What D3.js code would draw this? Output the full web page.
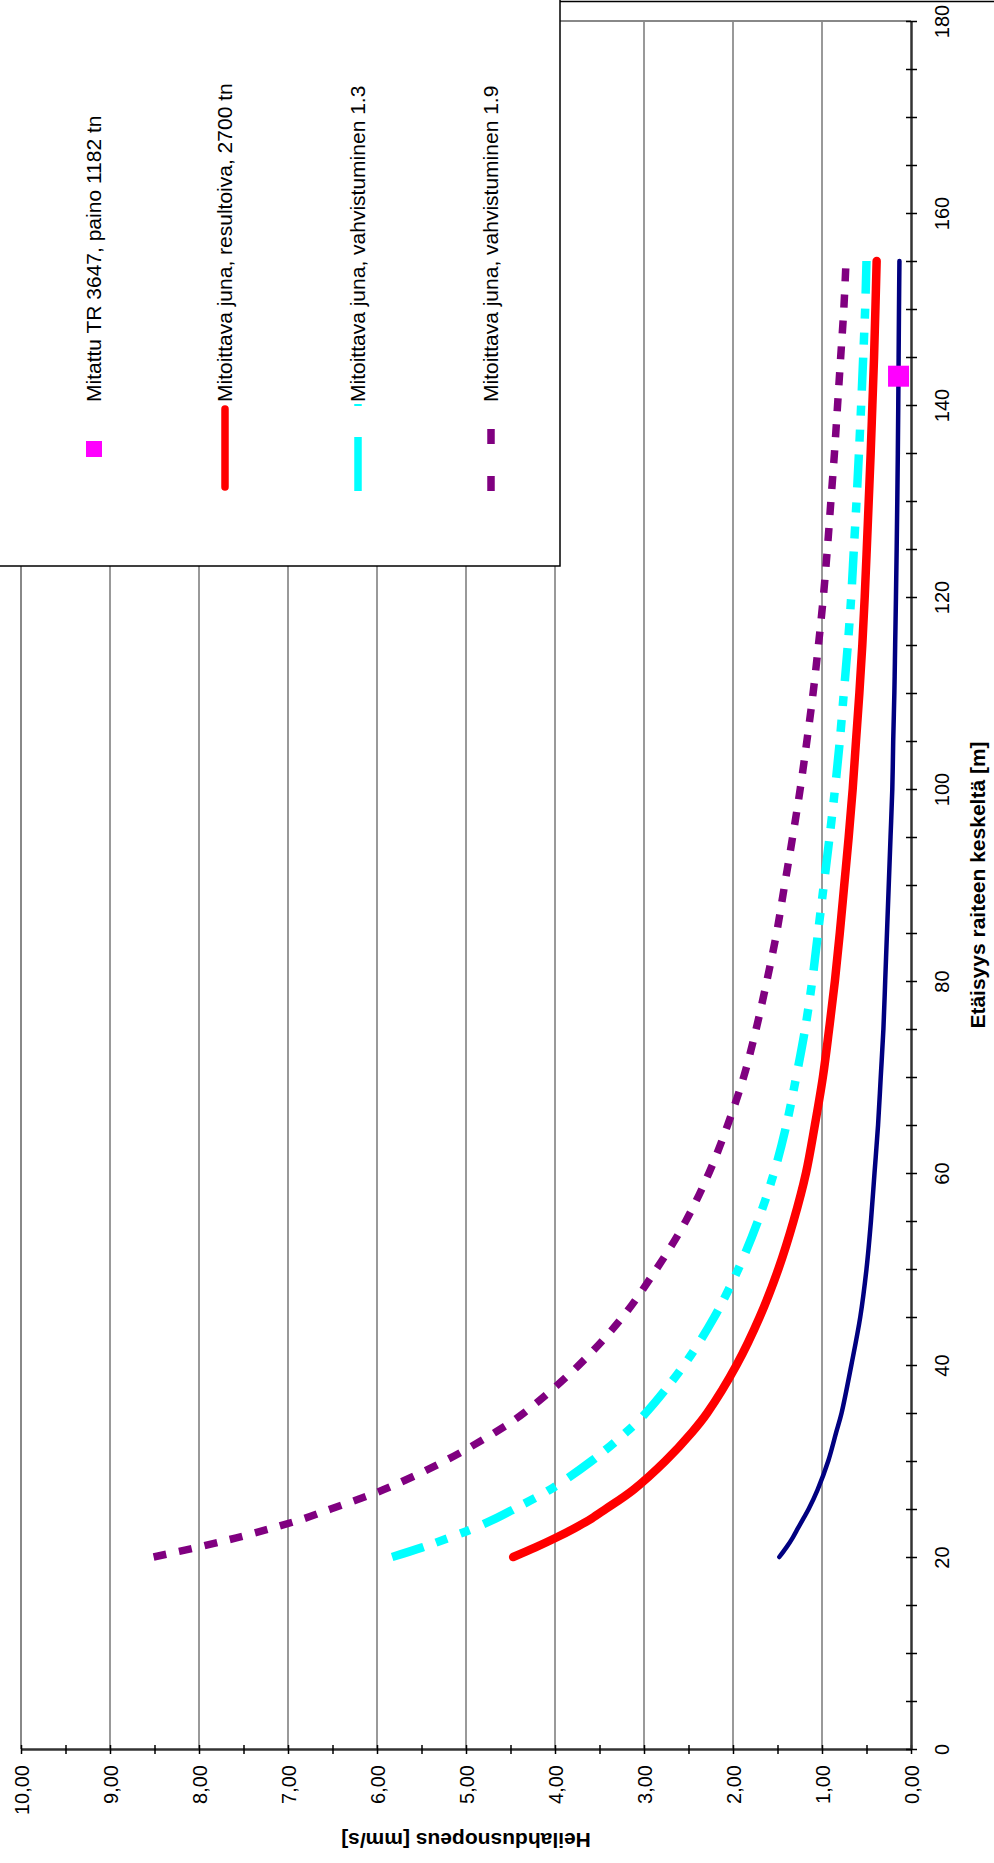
<!DOCTYPE html>
<html>
<head>
<meta charset="utf-8">
<script src="https://cdnjs.cloudflare.com/ajax/libs/d3/7.8.5/d3.min.js"></script>
<style>
  body { margin: 0; background: #fff; }
  svg text { font-family: "Liberation Sans", Arial, sans-serif; fill: #000; }
</style>
</head>
<body>
<script>
// Distance from track centre [m] -- shared by the four calculated series
const distances = [20, 21, 22, 23, 24, 25, 27, 30, 33, 35,
                   40, 45, 50, 55, 60, 65, 70, 75, 80, 85,
                   90, 95, 100, 105, 110, 115, 120, 125, 130, 135,
                   140, 145, 150, 155];

// Velocity [mm/s]
const navyVals   = [1.48, 1.40, 1.33, 1.27, 1.21, 1.15, 1.05, 0.93, 0.84, 0.78,
                    0.67, 0.57, 0.50, 0.45, 0.41, 0.37, 0.34, 0.31, 0.29, 0.27,
                    0.25, 0.23, 0.21, 0.20, 0.187, 0.178, 0.169, 0.161, 0.154, 0.148,
                    0.143, 0.139, 0.135, 0.13];
const redVals    = [4.47, 4.22, 3.99, 3.78, 3.59, 3.43, 3.12, 2.76, 2.46, 2.29,
                    1.96, 1.70, 1.49, 1.32, 1.18, 1.08, 0.99, 0.92, 0.855, 0.80,
                    0.75, 0.70, 0.655, 0.618, 0.58, 0.547, 0.52, 0.497, 0.475, 0.453,
                    0.434, 0.415, 0.40, 0.386];
const cyanVals   = [5.83, 5.49, 5.19, 4.91, 4.67, 4.46, 4.06, 3.59, 3.20, 2.98,
                    2.55, 2.21, 1.94, 1.72, 1.54, 1.40, 1.29, 1.19, 1.11, 1.045,
                    0.98, 0.915, 0.854, 0.80, 0.755, 0.71, 0.672, 0.642, 0.612, 0.585,
                    0.56, 0.537, 0.515, 0.50];
const purpleVals = [8.51, 8.02, 7.58, 7.18, 6.82, 6.52, 5.93, 5.24, 4.67, 4.35,
                    3.73, 3.24, 2.86, 2.53, 2.27, 2.06, 1.88, 1.74, 1.62, 1.51,
                    1.42, 1.33, 1.245, 1.17, 1.10, 1.04, 0.985, 0.94, 0.90, 0.86,
                    0.825, 0.79, 0.755, 0.73];

// Measured point (TR 3647)
const measuredDist = [143];
const measuredVals = [0.14];

const legendLabels = ["Mitattu TR 3647, paino 1182 tn",
                      "Mitoittava juna, resultoiva, 2700 tn",
                      "Mitoittava juna, vahvistuminen 1.3",
                      "Mitoittava juna, vahvistuminen 1.9"];

const xTitle = "Etäisyys raiteen keskeltä [m]";
const yTitle = "Heilahdusnopeus [mm/s]";

const distTicks  = d3.range(0, 181, 5);      // every 5 m, label every 20
const veloTicks  = d3.range(0, 10.01, 0.5);  // every 0.5, label every 1

// The whole chart is turned a quarter turn: distance runs up the page,
// velocity runs right-to-left.
const W = 994, H = 1863;
const svg = d3.select("body").append("svg")
    .attr("width", W)
    .attr("height", H);

const yD = d3.scaleLinear().domain([0, 180]).range([1749, 21]);
const xV = d3.scaleLinear().domain([0, 10]).range([911, 21]);

// outer frame edge at top
svg.append("line")
    .attr("x1", 0).attr("x2", W)
    .attr("y1", 1.5).attr("y2", 1.5)
    .attr("stroke", "#000").attr("stroke-width", 1.5);

// gridlines
svg.append("g").selectAll("line")
    .data(d3.range(1, 11))
    .join("line")
    .attr("x1", d => xV(d)).attr("x2", d => xV(d))
    .attr("y1", yD(180)).attr("y2", yD(0))
    .attr("stroke", d => d === 10 ? "#888" : "#555")
    .attr("stroke-width", d => d === 10 ? 2 : 1.2);

// plot area top edge
svg.append("line")
    .attr("x1", xV(10)).attr("x2", xV(0))
    .attr("y1", yD(180)).attr("y2", yD(180))
    .attr("stroke", "#888").attr("stroke-width", 2);

const line = d3.line()
    .x(d => xV(d.v))
    .y(d => yD(d.d))
    .curve(d3.curveCatmullRom.alpha(0.5));

const series = [
  {vals: navyVals,   color: "#000080", width: 4.5, dash: null,                  cap: "round"},
  {vals: redVals,    color: "#FF0000", width: 8.5, dash: null,                  cap: "round"},
  {vals: cyanVals,   color: "#00FFFF", width: 8.5, dash: "33,13,12,14,10,15",   cap: "butt"},
  {vals: purpleVals, color: "#800080", width: 7.5, dash: "13,13",               cap: "butt"}
];

svg.append("g").selectAll("path")
    .data(series)
    .join("path")
    .attr("d", s => line(distances.map((d, i) => ({d: d, v: s.vals[i]}))))
    .attr("fill", "none")
    .attr("stroke", s => s.color)
    .attr("stroke-width", s => s.width)
    .attr("stroke-linecap", s => s.cap)
    .attr("stroke-dasharray", s => s.dash);

// measured marker
const mSize = 21;
svg.append("g").selectAll("rect")
    .data(measuredDist.map((d, i) => ({d: d, v: measuredVals[i]})))
    .join("rect")
    .attr("x", d => xV(d.v) - mSize / 2)
    .attr("y", d => yD(d.d) - mSize / 2)
    .attr("width", mSize).attr("height", mSize)
    .attr("fill", "#FF00FF");

// velocity axis (bottom of page)
const bottomAxis = d3.axisBottom(xV)
    .tickValues(veloTicks)
    .tickSizeOuter(0)
    .tickFormat(d => d % 1 === 0 ? d.toFixed(2).replace(".", ",") : "");

const gB = svg.append("g")
    .attr("transform", "translate(0," + yD(0) + ")")
    .call(bottomAxis)
    .attr("font-family", null)
    .attr("font-size", 20);
gB.select(".domain").attr("stroke", "#333").attr("stroke-width", 2.5);
gB.selectAll(".tick line")
    .attr("y1", -4).attr("y2", 5)
    .attr("stroke", "#000").attr("stroke-width", 1.5);
gB.selectAll(".tick text")
    .attr("y", 0).attr("x", -16)
    .attr("dy", "0.35em")
    .attr("transform", "rotate(-90)")
    .style("text-anchor", "end");

// distance axis (right of page)
const rightAxis = d3.axisRight(yD)
    .tickValues(distTicks)
    .tickSizeOuter(0)
    .tickFormat(d => d % 20 === 0 ? d : "");

const gR = svg.append("g")
    .attr("transform", "translate(" + xV(0) + ",0)")
    .call(rightAxis)
    .attr("font-family", null)
    .attr("font-size", 20);
gR.select(".domain").attr("stroke", "#333").attr("stroke-width", 2.5);
gR.selectAll(".tick line")
    .attr("x1", -5).attr("x2", 6)
    .attr("stroke", "#000").attr("stroke-width", 1.5);
gR.selectAll(".tick text")
    .attr("x", 0).attr("y", 0)
    .attr("dy", "0.35em")
    .attr("transform", "translate(31,0) rotate(-90)")
    .style("text-anchor", "middle");

// axis titles
svg.append("text")
    .attr("transform", "translate(978," + (yD(0) + yD(180)) / 2 + ") rotate(-90)")
    .attr("dy", "0.35em")
    .attr("text-anchor", "middle")
    .style("font-size", "21px")
    .style("font-weight", "bold")
    .text(xTitle);

svg.append("text")
    .attr("transform", "translate(" + (xV(0) + xV(10)) / 2 + ",1840) rotate(180)")
    .attr("dy", "0.35em")
    .attr("text-anchor", "middle")
    .style("font-size", "21px")
    .style("font-weight", "bold")
    .text(yTitle);

// legend box (top-left, partly cut off by the page edge)
const legend = svg.append("g");
legend.append("rect")
    .attr("x", -2).attr("y", -2)
    .attr("width", 562).attr("height", 568)
    .attr("fill", "#fff")
    .attr("stroke", "#000").attr("stroke-width", 1.5);

const legendX = [94, 225, 358, 491];
const textY = 402;

legend.selectAll("text")
    .data(legendLabels)
    .join("text")
    .attr("transform", (d, i) => "translate(" + legendX[i] + "," + textY + ") rotate(-90)")
    .attr("dy", "0.35em")
    .style("font-size", "21px")
    .text(d => d);

legend.append("rect")
    .attr("x", legendX[0] - 8).attr("y", 441)
    .attr("width", 16).attr("height", 16)
    .attr("fill", "#FF00FF");

legend.append("line")
    .attr("x1", legendX[1]).attr("x2", legendX[1])
    .attr("y1", 409).attr("y2", 487)
    .attr("stroke", "#FF0000").attr("stroke-width", 7.5)
    .attr("stroke-linecap", "round");

legend.append("line")
    .attr("x1", legendX[2]).attr("x2", legendX[2])
    .attr("y1", 491).attr("y2", 404)
    .attr("stroke", "#00FFFF").attr("stroke-width", 7.5)
    .attr("stroke-dasharray", "54,31,3,20");

legend.append("line")
    .attr("x1", legendX[3]).attr("x2", legendX[3])
    .attr("y1", 491).attr("y2", 404)
    .attr("stroke", "#800080").attr("stroke-width", 7.5)
    .attr("stroke-dasharray", "15,32");
</script>
</body>
</html>
